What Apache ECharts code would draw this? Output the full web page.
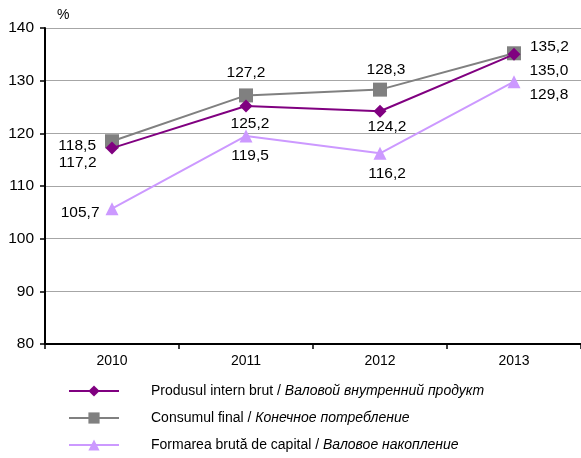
<!DOCTYPE html>
<html>
<head>
<meta charset="utf-8">
<script src="https://cdn.jsdelivr.net/npm/echarts@6/dist/echarts.min.js"></script>
<style>
html, body { margin: 0; padding: 0; background: #fff; }
#chart { width: 581px; height: 458px; }
</style>
</head>
<body>
<div id="chart"></div>
<script>
var years = ['2010', '2011', '2012', '2013'];
var pib = [117.2, 125.2, 124.2, 135.0];
var consum = [118.5, 127.2, 128.3, 135.2];
var formare = [105.7, 119.5, 116.2, 129.8];
var yTicks = [80, 90, 100, 110, 120, 130, 140];

var names = [
    ['Produsul intern brut / ', 'Валовой внутренний продукт'],
    ['Consumul final / ', 'Конечное потребление'],
    ['Formarea brută de capital / ', 'Валовое накопление']
];

var chart = echarts.init(document.getElementById('chart'));

function fmt(p) {
    return p.value.toFixed(1).replace('.', ',');
}

// label placement for each point
var pibLabels = [
    { position: 'left', distance: 9, offset: [0, 15] },
    { position: 'bottom', distance: 3, offset: [4, 0] },
    { position: 'bottom', distance: 1, offset: [7, 0] },
    { position: 'right', distance: 9, offset: [0, 16] }
];
var consumLabels = [
    { position: 'left', distance: 9, offset: [0, 4] },
    { position: 'top', distance: 8, offset: [0, 0] },
    { position: 'top', distance: 5, offset: [6, 0] },
    { position: 'right', distance: 9, offset: [0, -7] }
];
var formareLabels = [
    { position: 'left', distance: 6, offset: [0, 4] },
    { position: 'bottom', distance: 5, offset: [4, 0] },
    { position: 'bottom', distance: 6, offset: [7, 0] },
    { position: 'right', distance: 9, offset: [0, 13] }
];

function build(values, labels) {
    return values.map(function (v, i) {
        return { value: v, label: labels[i] };
    });
}

var labelStyle = {
    show: true,
    formatter: fmt,
    color: '#000',
    fontSize: 15.5,
    fontFamily: 'Liberation Sans'
};

var option = {
    animation: false,
    textStyle: { fontFamily: 'Liberation Sans' },
    grid: { left: 45, right: 0, top: 28, bottom: 114 },
    graphic: [{
        type: 'text', left: 57, top: 8,
        style: { text: '%', fontSize: 14, fontFamily: 'Liberation Sans', fill: '#000' }
    }],
    legend: {
        orient: 'vertical',
        left: 63,
        top: 379,
        itemGap: 13,
        itemWidth: 50,
        itemHeight: 14,
        data: names.map(function (n) { return n[0] + n[1]; }),
        formatter: function (name) {
            for (var i = 0; i < names.length; i++) {
                if (names[i][0] + names[i][1] === name) {
                    return '{a|' + names[i][0] + '}{b|' + names[i][1] + '}';
                }
            }
            return name;
        },
        textStyle: {
            padding: [0, 0, 0, 27],
            rich: {
                a: { fontSize: 14, lineHeight: 16, color: '#000', fontFamily: 'Liberation Sans' },
                b: { fontSize: 14, lineHeight: 16, color: '#000', fontStyle: 'italic', fontFamily: 'Liberation Sans' }
            }
        }
    },
    xAxis: {
        type: 'category',
        data: years,
        boundaryGap: true,
        axisLine: { lineStyle: { color: '#000', width: 2 } },
        axisTick: { show: true, length: 5, lineStyle: { color: '#000', width: 1.5 } },
        axisLabel: { color: '#000', fontSize: 14, margin: 10 }
    },
    yAxis: {
        type: 'value',
        min: yTicks[0],
        max: yTicks[yTicks.length - 1],
        interval: 10,
        axisLine: { show: true, lineStyle: { color: '#000', width: 2 } },
        axisTick: { show: true, length: 5, lineStyle: { color: '#000', width: 1.5 } },
        axisLabel: { color: '#000', fontSize: 15.5, margin: 11 },
        splitLine: { lineStyle: { color: '#a6a6a6', width: 1 } }
    },
    series: [
        {
            name: names[0][0] + names[0][1],
            type: 'line',
            data: build(pib, pibLabels),
            symbol: 'diamond',
            symbolSize: 13,
            z: 4,
            lineStyle: { color: '#800080', width: 2 },
            itemStyle: { color: '#800080' },
            label: labelStyle
        },
        {
            name: names[1][0] + names[1][1],
            type: 'line',
            data: build(consum, consumLabels),
            symbol: 'rect',
            symbolSize: 14,
            z: 3,
            lineStyle: { color: '#808080', width: 2 },
            itemStyle: { color: '#808080' },
            label: labelStyle
        },
        {
            name: names[2][0] + names[2][1],
            type: 'line',
            data: build(formare, formareLabels),
            symbol: 'triangle',
            symbolSize: 13,
            z: 2,
            lineStyle: { color: '#cc99ff', width: 2 },
            itemStyle: { color: '#cc99ff' },
            label: labelStyle
        }
    ]
};

chart.setOption(option);
</script>
</body>
</html>
